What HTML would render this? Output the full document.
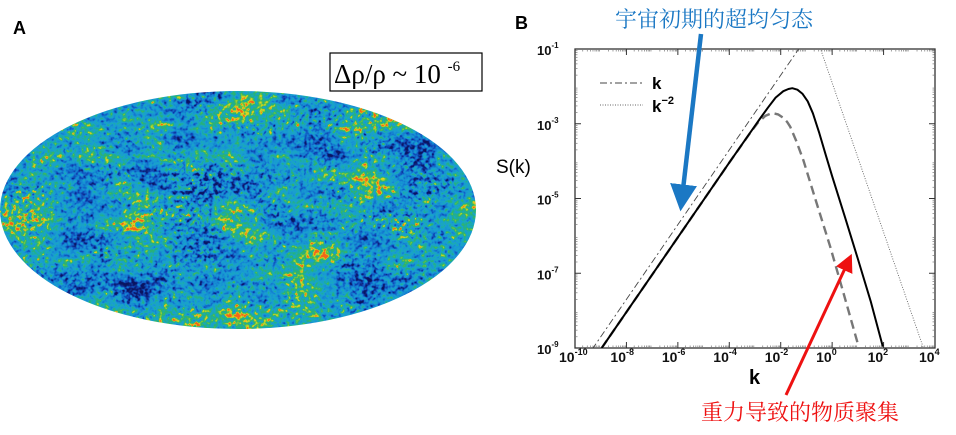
<!DOCTYPE html>
<html><head><meta charset="utf-8"><style>
html,body{margin:0;padding:0;background:#fff;width:956px;height:435px;overflow:hidden}
svg{display:block}
</style></head><body>
<svg width="956" height="435" viewBox="0 0 956 435" xmlns="http://www.w3.org/2000/svg">
<defs>
<filter id="cmb" x="0" y="0" width="100%" height="100%" color-interpolation-filters="sRGB">
<feTurbulence type="fractalNoise" baseFrequency="0.018 0.03" numOctaves="2" seed="3" result="low"/>
<feTurbulence type="fractalNoise" baseFrequency="0.22" numOctaves="2" seed="11" result="high"/>
<feComposite in="low" in2="high" operator="arithmetic" k2="0.5" k3="0.5" result="mix"/>
<feColorMatrix in="mix" type="matrix" values="1 0 0 0 0 1 0 0 0 0 1 0 0 0 0 0 0 0 0 1" result="g"/>
<feComponentTransfer in="g" result="s">
<feFuncR type="linear" slope="2.2" intercept="-0.6"/>
<feFuncG type="linear" slope="2.2" intercept="-0.6"/>
<feFuncB type="linear" slope="2.2" intercept="-0.6"/>
<feFuncA type="table" tableValues="1 1"/>
</feComponentTransfer>
<feComponentTransfer in="s">
<feFuncR type="table" tableValues="0.04 0.05 0.06 0.07 0.08 0.09 0.1 0.1 0.12 0.18 0.45 0.9 0.95"/>
<feFuncG type="table" tableValues="0.08 0.14 0.25 0.38 0.5 0.58 0.62 0.66 0.68 0.7 0.78 0.85 0.4"/>
<feFuncB type="table" tableValues="0.38 0.48 0.68 0.78 0.82 0.83 0.82 0.75 0.6 0.42 0.25 0.12 0.1"/>
<feFuncA type="table" tableValues="1 1"/>
</feComponentTransfer>
</filter>
<clipPath id="ell"><ellipse cx="238" cy="210" rx="238" ry="119"/></clipPath>
<clipPath id="plotclip"><rect x="575" y="49" width="360" height="299"/></clipPath>
<marker id="ab" markerWidth="6" markerHeight="6" refX="3" refY="3" orient="auto" markerUnits="strokeWidth"><path d="M0,0 L6,3 L0,6 z" fill="#1b78c4"/></marker>
<marker id="ar" markerWidth="6" markerHeight="6" refX="3" refY="3" orient="auto" markerUnits="strokeWidth"><path d="M0,0 L6,3 L0,6 z" fill="#ee1111"/></marker>
</defs>

<text x="13" y="34" font-family="Liberation Sans, sans-serif" font-weight="bold" font-size="18">A</text>
<g clip-path="url(#ell)">
<rect x="0" y="91" width="477" height="239" filter="url(#cmb)"/>
</g>
<rect x="330" y="53" width="152" height="38" fill="#fff" stroke="#000" stroke-width="1.2"/>
<text x="334" y="83" font-family="Liberation Serif, serif" font-size="27">Δρ/ρ ~ 10 <tspan font-size="15" dy="-12">-6</tspan></text>

<text x="515" y="29" font-family="Liberation Sans, sans-serif" font-weight="bold" font-size="18">B</text>
<text x="714" y="27" text-anchor="middle" fill="#1b78c4" font-family="Liberation Serif, 'Noto Serif CJK SC', serif" font-size="22">宇宙初期的超均匀态</text>
<text x="800" y="420" text-anchor="middle" fill="#ee1111" font-family="Liberation Serif, 'Noto Serif CJK SC', serif" font-size="22">重力导致的物质聚集</text>

<g id="chart"></g>

<line x1="701" y1="34" x2="682" y2="198" stroke="#1b78c4" stroke-width="4.5" marker-end="url(#ab)"/>
<line x1="786" y1="395" x2="848" y2="262" stroke="#ee1111" stroke-width="3" marker-end="url(#ar)"/>
</svg>
<script>
const xTicks=[-10,-8,-6,-4,-2,0,2,4];
const yTicks=[-1,-3,-5,-7,-9];
const solidLogK=[-8.96,-4,-3.2,-2.8,-2.5,-2.2,-1.9,-1.7,-1.55,-1.35,-1.15,-0.95,-0.75,-0.5,-0.25,0,0.5,1.0,1.5,1.97];
const solidLogS=[-9,-4.04,-3.25,-2.86,-2.57,-2.3,-2.13,-2.07,-2.05,-2.09,-2.2,-2.4,-2.72,-3.25,-3.83,-4.4,-5.5,-6.62,-7.75,-8.96];
const dashLogK=[-8.96,-4,-3.5,-3.19,-2.9,-2.6,-2.4,-2.28,-2.1,-1.9,-1.75,-1.63,-1.4,-1.12,-0.6,-0.08,0.44,1.03];
const dashLogS=[-9,-4.04,-3.55,-3.25,-2.98,-2.79,-2.73,-2.72,-2.75,-2.84,-2.95,-3.08,-3.45,-3.97,-5.13,-6.28,-7.53,-8.96];
const kLineLogK=[-10,-1];
const kLineLogS=[-9.7,-0.7];
const k2LineLogK=[-1,3.6];
const k2LineLogS=[0.1,-9.1];

const X0=575,X1=935,Y0=49,Y1=348;
const xs=v=>X0+(v+10)/14*(X1-X0);
const ys=v=>Y0+(-1-v)/8*(Y1-Y0);
const NS='http://www.w3.org/2000/svg';
const g=document.getElementById('chart');
function mk(t,a,parent){const e=document.createElementNS(NS,t);for(const k in a)e.setAttribute(k,a[k]);(parent||g).appendChild(e);return e;}

const frame=mk('rect',{x:X0,y:Y0,width:X1-X0,height:Y1-Y0,fill:'none',stroke:'#333','stroke-width':1.3});



for(let d=-10;d<4;d++){for(let m=2;m<10;m++){const x=xs(d+Math.log10(m));
  mk('line',{x1:x,x2:x,y1:Y1,y2:Y1-2.5,stroke:'#777','stroke-width':0.7});
  mk('line',{x1:x,x2:x,y1:Y0,y2:Y0+2.5,stroke:'#777','stroke-width':0.7});}}
for(let d=-9;d<-1;d++){for(let m=2;m<10;m++){const y=ys(d+Math.log10(m));
  mk('line',{x1:X0,x2:X0+2.5,y1:y,y2:y,stroke:'#777','stroke-width':0.7});
  mk('line',{x1:X1,x2:X1-2.5,y1:y,y2:y,stroke:'#777','stroke-width':0.7});}}

xTicks.forEach(t=>{
  const x=xs(t);
  const tk=mk('line',{x1:x,x2:x,y1:Y1,y2:Y1-6,stroke:'#333'});
  
  
  mk('line',{x1:x,x2:x,y1:Y0,y2:Y0+6,stroke:'#333'});
  const tx=mk('text',{x:x-16,y:362,'font-family':'Liberation Sans, sans-serif','font-size':14,'font-weight':'bold',fill:'#111'});
  
  
  tx.innerHTML='10<tspan font-size="9" dy="-7">'+t+'</tspan>';
});
yTicks.forEach(t=>{
  const y=ys(t);
  const tk=mk('line',{x1:X0,x2:X0+6,y1:y,y2:y,stroke:'#333'});
  
  
  mk('line',{x1:X1,x2:X1-6,y1:y,y2:y,stroke:'#333'});
  const tx=mk('text',{x:537,y:y+6,'font-family':'Liberation Sans, sans-serif','font-size':13,'font-weight':'bold',fill:'#111'});
  
  
  tx.innerHTML='10<tspan font-size="8" dy="-7">'+t+'</tspan>';
});
const xl=mk('text',{x:749,y:384,'font-family':'Liberation Sans, sans-serif','font-size':20,'font-weight':'bold'});
xl.textContent='k';


const yl=mk('text',{x:496,y:173,'font-family':'Liberation Sans, sans-serif','font-size':19});
yl.textContent='S(k)';



const pc=mk('g',{'clip-path':'url(#plotclip)'});
function path(K,S,style,name){
  let d='';
  for(let i=0;i<K.length;i++)d+=(i?'L':'M')+xs(K[i]).toFixed(1)+','+ys(S[i]).toFixed(1);
  const p=mk('path',Object.assign({d:d,fill:'none','stroke-linejoin':'round'},style),pc);
  
  
}
path(kLineLogK,kLineLogS,{stroke:'#444','stroke-width':0.9,'stroke-dasharray':'7 3 2 3'},'k-power-line');
path(k2LineLogK,k2LineLogS,{stroke:'#666','stroke-width':0.9,'stroke-dasharray':'1 1.5'},'k-minus2-power-line');
path(dashLogK,dashLogS,{stroke:'#777','stroke-width':2.4,'stroke-dasharray':'9 5'},'dashed-spectrum');
path(solidLogK,solidLogS,{stroke:'#000','stroke-width':2},'solid-spectrum');

const l1=mk('line',{x1:600,x2:643,y1:83,y2:83,stroke:'#444','stroke-width':1,'stroke-dasharray':'7 3 2 3'});


const t1=mk('text',{x:652,y:89,'font-family':'Liberation Sans, sans-serif','font-size':17,'font-weight':'bold'});
t1.textContent='k';


const l2=mk('line',{x1:600,x2:643,y1:105,y2:105,stroke:'#666','stroke-width':1,'stroke-dasharray':'1 1.5'});


const t2=mk('text',{x:652,y:112,'font-family':'Liberation Sans, sans-serif','font-size':17,'font-weight':'bold'});
t2.innerHTML='k<tspan font-size="11" dy="-8">−2</tspan>';


</script>
</body></html>
